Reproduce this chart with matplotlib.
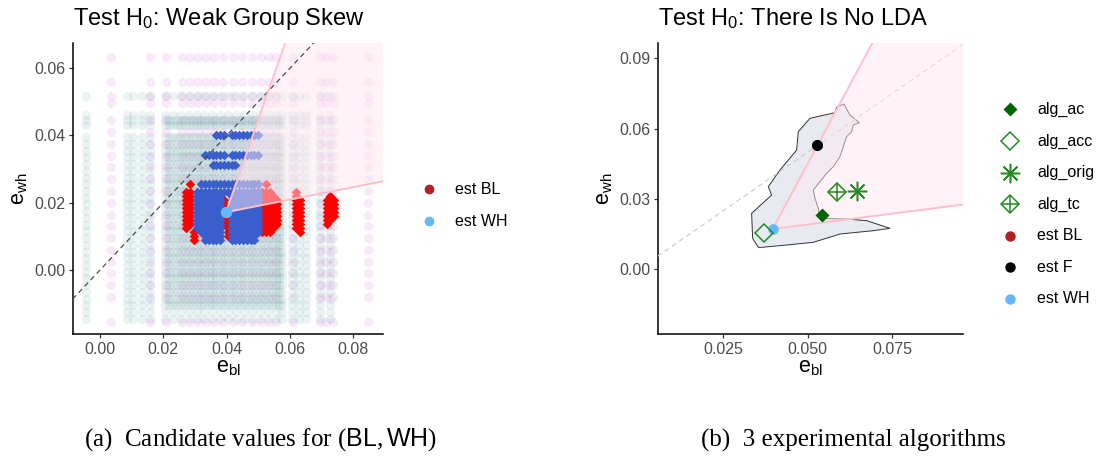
import numpy as np
import matplotlib
matplotlib.use("Agg")
import matplotlib.pyplot as plt
from matplotlib.lines import Line2D
from matplotlib.patches import Polygon

plt.rcParams['font.family'] = ['Liberation Sans', 'DejaVu Sans']
plt.rcParams['mathtext.fontset'] = 'custom'
plt.rcParams['mathtext.rm'] = 'Liberation Serif'
plt.rcParams['mathtext.sf'] = 'Liberation Sans'
plt.rcParams['mathtext.it'] = 'Liberation Serif:italic'

# ------------------------------------------------------------------ data (a)
teal_x = [-0.0045, 0.0085, 0.0105, 0.0133, 0.0158, 0.0205, 0.0230, 0.0255, 0.0280,
          0.0305, 0.0330, 0.0355, 0.0380, 0.0405, 0.0430, 0.0455, 0.0480, 0.0505,
          0.0530, 0.0555, 0.0575, 0.0605, 0.0628, 0.0652, 0.0695, 0.0725]
teal_y = [-0.0145, -0.0125, -0.0105, -0.0085, -0.0065, -0.0045, -0.0025, -0.0005,
          0.0015, 0.0035, 0.0055, 0.0075, 0.0095, 0.0115, 0.0135, 0.0155, 0.0175,
          0.0195, 0.0215, 0.0235, 0.0255, 0.0275, 0.0295, 0.0315, 0.0335, 0.0355,
          0.0375, 0.0395, 0.0430, 0.0445, 0.0460, 0.0516]
teal_core_x = [0.0218, 0.0243, 0.0268, 0.0293, 0.0318, 0.0343, 0.0368, 0.0393,
               0.0418, 0.0443, 0.0468, 0.0493, 0.0518, 0.0543, 0.0565]
teal_core_y = [-0.0105, -0.0085, -0.0065, -0.0045, -0.0025, -0.0005, 0.0015, 0.0035,
               0.0055, 0.0075, 0.0095, 0.0115, 0.0135, 0.0155, 0.0175, 0.0195,
               0.0215, 0.0235, 0.0255, 0.0275, 0.0295, 0.0315, 0.0335, 0.0355,
               0.0375, 0.0395, 0.0430, 0.0445]
violet_x = [0.0036, 0.0159, 0.0210, 0.0260, 0.0285, 0.0310, 0.0335, 0.0360, 0.0390,
            0.0420, 0.0450, 0.0480, 0.0510, 0.0535, 0.0556, 0.0610, 0.0695, 0.0715,
            0.0736, 0.0847]
violet_y = [-0.0153, -0.0079, -0.0045, -0.0010, 0.0025, 0.0060, 0.0095, 0.0130,
            0.0165, 0.0200, 0.0235, 0.0270, 0.0305, 0.0340, 0.0375, 0.0410, 0.0445,
            0.0496, 0.0516, 0.0558, 0.0633]

# candidate grid for accepted (BL, WH) pairs
cand_bl = [0.0272, 0.0284, 0.0296, 0.0308, 0.0320, 0.0332, 0.0344, 0.0356, 0.0368,
           0.0380, 0.0392, 0.0404, 0.0416, 0.0428, 0.0440, 0.0452, 0.0464, 0.0476,
           0.0488, 0.0500, 0.0512, 0.0524, 0.0536, 0.0548, 0.0560, 0.0572, 0.0584,
           0.0596, 0.0608, 0.0620, 0.0632, 0.0644, 0.0656, 0.0668, 0.0680, 0.0692,
           0.0704, 0.0716, 0.0728, 0.0740]
cand_wh = [0.0088, 0.0100, 0.0112, 0.0124, 0.0136, 0.0148, 0.0160, 0.0172, 0.0184,
           0.0196, 0.0208, 0.0220, 0.0232, 0.0256, 0.0312, 0.0342, 0.0401]

# accepted WH candidates: (wh, bl_from, bl_to)
wh_rows = [
    (0.0401, 0.0368, 0.0392), (0.0401, 0.0416, 0.0500),
    (0.0342, 0.0332, 0.0392), (0.0342, 0.0416, 0.0500),
    (0.0312, 0.0356, 0.0428),
    (0.0256, 0.0320, 0.0500),
    (0.0232, 0.0308, 0.0500),
    (0.0220, 0.0308, 0.0380), (0.0220, 0.0416, 0.0500),
    (0.0208, 0.0308, 0.0380), (0.0208, 0.0416, 0.0500),
    (0.0196, 0.0308, 0.0380), (0.0196, 0.0416, 0.0500),
    (0.0184, 0.0308, 0.0380), (0.0184, 0.0416, 0.0500),
    (0.0172, 0.0308, 0.0380), (0.0172, 0.0416, 0.0500),
    (0.0160, 0.0308, 0.0380), (0.0160, 0.0416, 0.0500),
    (0.0148, 0.0308, 0.0380), (0.0148, 0.0416, 0.0500),
    (0.0136, 0.0308, 0.0380), (0.0136, 0.0416, 0.0500),
    (0.0124, 0.0308, 0.0380), (0.0124, 0.0416, 0.0500),
    (0.0112, 0.0320, 0.0380), (0.0112, 0.0416, 0.0500),
    (0.0100, 0.0332, 0.0380), (0.0100, 0.0416, 0.0488),
    (0.0088, 0.0332, 0.0380), (0.0088, 0.0416, 0.0488),
]
# accepted BL candidates: (bl, wh_from, wh_to)
bl_cols = [
    (0.0272, 0.0124, 0.0232), (0.0284, 0.0136, 0.0256), (0.0296, 0.0088, 0.0112),
    (0.0332, 0.0124, 0.0196), (0.0392, 0.0136, 0.0208), (0.0404, 0.0100, 0.0184),
    (0.0452, 0.0136, 0.0196),
    (0.0500, 0.0112, 0.0256), (0.0512, 0.0112, 0.0232), (0.0524, 0.0112, 0.0256),
    (0.0536, 0.0112, 0.0232), (0.0548, 0.0124, 0.0220), (0.0560, 0.0136, 0.0208),
    (0.0620, 0.0124, 0.0232), (0.0632, 0.0112, 0.0208),
    (0.0716, 0.0136, 0.0208), (0.0728, 0.0148, 0.0220), (0.0740, 0.0160, 0.0208),
]
est_wh_a = (0.0398, 0.0172)
cone_slopes = (0.185, 2.69)     # lower / upper edge of the rejection cone

# ------------------------------------------------------------------ data (b)
contour_bl = [0.03338, 0.03930, 0.03831, 0.04177, 0.04670, 0.04719, 0.05064, 0.05804,
              0.05853, 0.06070, 0.06248, 0.06524, 0.06346, 0.06297, 0.06149, 0.06050,
              0.05952, 0.05754, 0.05557, 0.05360, 0.05163, 0.05212, 0.05311, 0.05360,
              0.06149, 0.06741, 0.07431, 0.06938, 0.05952, 0.05163, 0.04374, 0.03634,
              0.03536, 0.03368]
contour_wh = [0.02389, 0.03171, 0.03526, 0.04237, 0.05090, 0.05872, 0.06440, 0.06682,
              0.06910, 0.07052, 0.06583, 0.06256, 0.06156, 0.05872, 0.05659, 0.05232,
              0.04806, 0.04379, 0.04095, 0.03739, 0.03384, 0.03028, 0.02602, 0.02175,
              0.02147, 0.02076, 0.01749, 0.01649, 0.01507, 0.01152, 0.01038, 0.00938,
              0.00938, 0.01322]
alg_names = ["alg_ac", "alg_acc", "alg_orig", "alg_tc"]
alg_bl = [0.0543, 0.0371, 0.0647, 0.0585]
alg_wh = [0.0232, 0.0154, 0.0336, 0.0331]
est_f_b = (0.0528, 0.0529)
est_wh_b = (0.0396, 0.0172)

# ------------------------------------------------------------------ styling
W, H = 1098, 457
fig = plt.figure(figsize=(W / 100, H / 100), dpi=100)

def fx(px):
    return px / W

def fy(py):
    return 1 - py / H

TEAL = '#5F9EA0'
VIOLET = '#DA70D6'
BLUE = '#3A5FCD'
RED = '#FF0000'
WHBLUE = '#63B8FF'
BLRED = '#B22222'
DGREEN = '#006400'
FGREEN = '#228B22'
PINK = '#FFC0CB'
WEDGE = '#FFE8F0'
TICKFS = 11.5
LABFS = 15.5
TITLEFS = 17


def style_axes(ax):
    for s in ['top', 'right']:
        ax.spines[s].set_visible(False)
    for s in ['left', 'bottom']:
        ax.spines[s].set_linewidth(1.1)
        ax.spines[s].set_color('black')
    ax.tick_params(direction='out', length=3.2, width=0.9, color='#333333',
                   labelsize=TICKFS, labelcolor='#4D4D4D', pad=2.5)


def cone(ax, v, slopes):
    s_lo, s_hi = slopes
    far = 1.0
    tri = Polygon([v, (v[0] + far, v[1] + s_lo * far), (v[0] + far, v[1] + s_hi * far)],
                  closed=True, facecolor=WEDGE, edgecolor='none', alpha=0.5, zorder=6)
    ax.add_patch(tri)
    for s in slopes:
        ax.plot([v[0], v[0] + far], [v[1], v[1] + s * far], color=PINK, lw=1.4,
                zorder=8, solid_capstyle='butt')


# ------------------------------------------------------------------ panel (a)
axA = fig.add_axes([fx(73.3), fy(334.3), fx(382.7) - fx(73.3), fy(43.3) - fy(334.3)])
style_axes(axA)

gx, gy = np.meshgrid(violet_x, violet_y)
axA.scatter(gx.ravel(), gy.ravel(), s=45, color=VIOLET, alpha=0.14, lw=0, zorder=1)
gx, gy = np.meshgrid(teal_x, teal_y)
axA.scatter(gx.ravel(), gy.ravel(), s=45, color=TEAL, alpha=0.12, lw=0, zorder=2)
gx, gy = np.meshgrid(teal_core_x, teal_core_y)
axA.scatter(gx.ravel(), gy.ravel(), s=45, color=TEAL, alpha=0.17, lw=0, zorder=2)

cb = np.array(cand_bl)
cw = np.array(cand_wh)
red_x, red_y = [], []
for b, w0, w1 in bl_cols:
    sel = cw[(cw >= w0 - 1e-9) & (cw <= w1 + 1e-9)]
    red_x += [b] * len(sel)
    red_y += list(sel)
blue_x, blue_y = [], []
for w, b0, b1 in wh_rows:
    sel = cb[(cb >= b0 - 1e-9) & (cb <= b1 + 1e-9)]
    blue_x += list(sel)
    blue_y += [w] * len(sel)
axA.scatter(red_x, red_y, marker='D', s=24, color=RED, lw=0, zorder=3)
axA.scatter(blue_x, blue_y, marker='D', s=24, color=BLUE, lw=0, zorder=4)

cone(axA, est_wh_a, cone_slopes)
lims = np.array([-0.02, 0.1])
axA.plot(lims, lims, color='#4D4D4D', lw=0.9, ls=(0, (4, 3)), zorder=7)
axA.plot([est_wh_a[0]], [est_wh_a[1]], 'o', ms=8.3, color=WHBLUE, mec='none', zorder=9)

axA.set_xlim(-0.00843, 0.0893)
axA.set_ylim(-0.0191, 0.0674)
axA.set_xticks([0.00, 0.02, 0.04, 0.06, 0.08])
axA.set_yticks([0.00, 0.02, 0.04, 0.06])
axA.set_xticklabels(['0.00', '0.02', '0.04', '0.06', '0.08'])
axA.set_yticklabels(['0.00', '0.02', '0.04', '0.06'])
axA.set_xlabel(r'e$_{\mathsf{bl}}$', fontsize=LABFS, labelpad=-1)
axA.set_ylabel(r'e$_{\mathsf{wh}}$', fontsize=LABFS, labelpad=4)
axA.set_title(r'Test H$_{\mathsf{0}}$: Weak Group Skew', loc='left', fontsize=TITLEFS, pad=13)

# legend (a)
for lab, col, py in [('est BL', BLRED, 189), ('est WH', WHBLUE, 221)]:
    fig.add_artist(Line2D([fx(428.5)], [fy(py)], marker='o', ms=7, color=col,
                          mec='none', ls='none', transform=fig.transFigure))
    fig.text(fx(455), fy(py), lab, fontsize=TICKFS, va='center', ha='left', color='black')

# ------------------------------------------------------------------ panel (b)
axB = fig.add_axes([fx(658.3), fy(334.3), fx(963.3) - fx(658.3), fy(43.3) - fy(334.3)])
style_axes(axB)

axB.add_patch(Polygon(np.column_stack([contour_bl, contour_wh]), closed=True,
                      facecolor='#E7EBF1', edgecolor='#333333', lw=0.7, zorder=2))
axB.plot(lims, lims, color='#CFCFCF', lw=0.9, ls=(0, (4, 3)), zorder=3)
cone(axB, est_wh_b, cone_slopes)

axB.plot(alg_bl[0], alg_wh[0], 'D', ms=7.0, color=DGREEN, mec='none', zorder=10)
axB.plot(alg_bl[1], alg_wh[1], 'D', ms=9.2, mfc='none', mec=FGREEN, mew=1.1, zorder=10)
axB.plot(alg_bl[2], alg_wh[2], marker=(8, 2, 0), ms=14, color=FGREEN, mew=1.1,
         ls='none', zorder=10)
axB.plot(alg_bl[3], alg_wh[3], 'D', ms=9.2, mfc='none', mec=FGREEN, mew=1.1, zorder=10)
axB.plot(alg_bl[3], alg_wh[3], '+', ms=13, mec=FGREEN, mew=1.1, zorder=10)
axB.plot([est_f_b[0]], [est_f_b[1]], 'o', ms=8.0, color='black', mec='none', zorder=10)
axB.plot([est_wh_b[0]], [est_wh_b[1]], 'o', ms=7.6, color=WHBLUE, mec='none', zorder=9)

axB.set_xlim(0.00577, 0.0960)
axB.set_ylim(-0.0277, 0.0964)
axB.set_xticks([0.025, 0.050, 0.075])
axB.set_xticklabels(['0.025', '0.050', '0.075'])
axB.set_yticks([0.00, 0.03, 0.06, 0.09])
axB.set_yticklabels(['0.00', '0.03', '0.06', '0.09'])
axB.set_xlabel(r'e$_{\mathsf{bl}}$', fontsize=LABFS, labelpad=-1)
axB.set_ylabel(r'e$_{\mathsf{wh}}$', fontsize=LABFS, labelpad=4)
axB.set_title(r'Test H$_{\mathsf{0}}$: There Is No LDA', loc='left', fontsize=TITLEFS, pad=13)

# legend (b)
leg_labels = alg_names + ['est BL', 'est F', 'est WH']
leg_y = [109.5, 141, 172.5, 204, 235.5, 267, 298.5]
lx = fx(1010)
for lab, py in zip(leg_labels, leg_y):
    y = fy(py)
    kw = dict(transform=fig.transFigure, ls='none')
    if lab == 'alg_ac':
        fig.add_artist(Line2D([lx], [y], marker='D', ms=7.0, color=DGREEN, mec='none', **kw))
    elif lab == 'alg_acc':
        fig.add_artist(Line2D([lx], [y], marker='D', ms=9.2, mfc='none', mec=FGREEN, mew=1.1, **kw))
    elif lab == 'alg_orig':
        fig.add_artist(Line2D([lx], [y], marker=(8, 2, 0), ms=14, color=FGREEN, mew=1.1, **kw))
    elif lab == 'alg_tc':
        fig.add_artist(Line2D([lx], [y], marker='D', ms=9.2, mfc='none', mec=FGREEN, mew=1.1, **kw))
        fig.add_artist(Line2D([lx], [y], marker='+', ms=13, mec=FGREEN, mew=1.1, **kw))
    elif lab == 'est BL':
        fig.add_artist(Line2D([lx], [y], marker='o', ms=7.5, color=BLRED, mec='none', **kw))
    elif lab == 'est F':
        fig.add_artist(Line2D([lx], [y], marker='o', ms=7.5, color='black', mec='none', **kw))
    else:
        fig.add_artist(Line2D([lx], [y], marker='o', ms=7.5, color=WHBLUE, mec='none', **kw))
    fig.text(fx(1037), y, lab, fontsize=TICKFS, va='center', ha='left', color='black')

# captions
fig.text(fx(261), fy(440), r'(a)  Candidate values for $(\mathsf{BL},\mathsf{WH})$',
         family='Liberation Serif', fontsize=18, ha='center', va='center')
fig.text(fx(853), fy(440), '(b)  3 experimental algorithms',
         family='Liberation Serif', fontsize=18, ha='center', va='center')

fig.savefig('out.png', dpi=100)
